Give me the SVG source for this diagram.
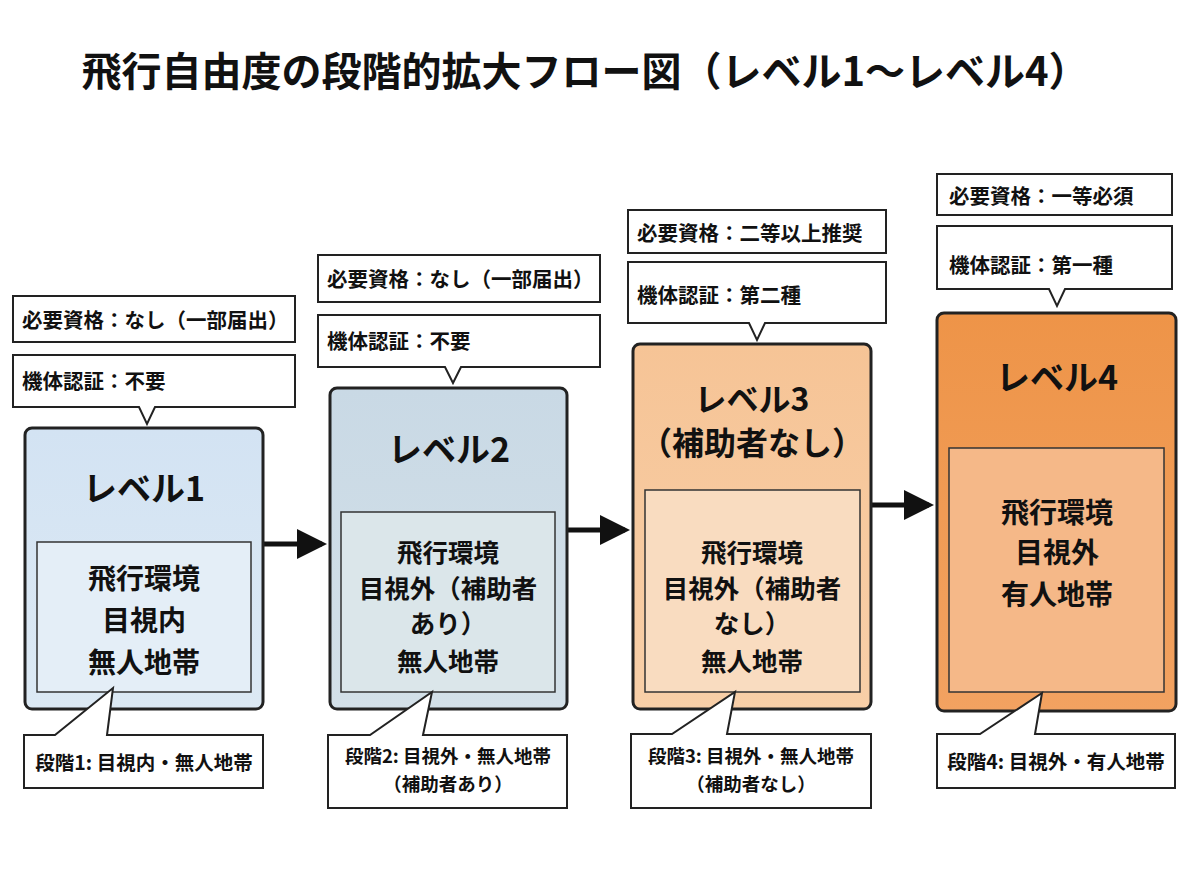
<svg xmlns="http://www.w3.org/2000/svg" width="1200" height="896" viewBox="0 0 1200 896">
<defs>
<style>
text{font-family:"Noto Sans CJK JP","Noto Sans",sans-serif;fill:#111;}
.title{font-size:40px;font-weight:700;}
.lv{font-size:34px;font-weight:700;text-anchor:middle;}
.lv3{font-size:32px;font-weight:700;text-anchor:middle;}
.in{font-size:28px;font-weight:700;text-anchor:middle;}
.in2{font-size:25.5px;font-weight:700;text-anchor:middle;}
.co{font-size:20.5px;font-weight:700;}
.bl{font-size:19.5px;font-weight:700;text-anchor:middle;}
.bl2{font-size:18.5px;font-weight:700;text-anchor:middle;}
.box{stroke:#222;stroke-width:3;}
.inner{stroke:#333;stroke-width:1.5;}
.call{fill:#fff;stroke:#222;stroke-width:2;}
.conn{stroke:#111;stroke-width:5;fill:none;}
</style>
<marker id="ah" markerWidth="6" markerHeight="6" refX="5" refY="3" orient="auto" markerUnits="strokeWidth"><path d="M0,0 L6,3 L0,6 z" fill="#111"/></marker>
<linearGradient id="g1" x1="0" y1="0" x2="0" y2="1"><stop offset="0" stop-color="#d3e3f3"/><stop offset="1" stop-color="#dce9f4"/></linearGradient>
<linearGradient id="g2" x1="0" y1="0" x2="0" y2="1"><stop offset="0" stop-color="#c9d9e5"/><stop offset="1" stop-color="#d3e0e8"/></linearGradient>
<linearGradient id="g3" x1="0" y1="0" x2="0" y2="1"><stop offset="0" stop-color="#f6c496"/><stop offset="1" stop-color="#f8cfa8"/></linearGradient>
<linearGradient id="g4" x1="0" y1="0" x2="0" y2="1"><stop offset="0" stop-color="#ee9448"/><stop offset="1" stop-color="#f2a261"/></linearGradient>
</defs>
<rect width="1200" height="896" fill="#fff"/>
<text class="title" x="585" y="86" text-anchor="middle">飛行自由度の段階的拡大フロー図（レベル1〜レベル4）</text>

<g id="connectors">
<line class="conn" x1="263" y1="544" x2="322" y2="544" marker-end="url(#ah)"/>
<line class="conn" x1="567" y1="530" x2="625" y2="530" marker-end="url(#ah)"/>
<line class="conn" x1="871" y1="505" x2="929" y2="505" marker-end="url(#ah)"/>
</g>

<g id="level1">
<rect class="box" x="25" y="428" width="238" height="281" rx="7" fill="url(#g1)"/>
<rect class="inner" x="37" y="542" width="214" height="150" fill="#e4eef7"/>
<text class="lv" x="144" y="501">レベル1</text>
<text class="in" x="144" y="589">飛行環境</text>
<text class="in" x="144" y="631">目視内</text>
<text class="in" x="144" y="673">無人地帯</text>
</g>
<g id="level1-req"><rect class="call" x="13" y="296" width="282" height="46"/><text class="co" x="22" y="328">必要資格：なし（一部届出）</text></g>
<g id="level1-cert"><path class="call" d="M13,355 H295 V407 H155 L147,424 L139,407 H13 Z"/><text class="co" x="22" y="389">機体認証：不要</text></g>
<g id="level1-stage"><path class="call" d="M24,735 H55 L113,688 L107,735 H263 V788 H24 Z"/><text class="bl" x="144" y="770">段階1: 目視内・無人地帯</text></g>

<g id="level2">
<rect class="box" x="330" y="388" width="237" height="321" rx="7" fill="url(#g2)"/>
<rect class="inner" x="341" y="512" width="214" height="180" fill="#dbe6ea"/>
<text class="lv" x="449" y="462">レベル2</text>
<text class="in2" x="448" y="562">飛行環境</text>
<text class="in2" x="448" y="598">目視外（補助者</text>
<text class="in2" x="448" y="633">あり）</text>
<text class="in2" x="448" y="671">無人地帯</text>
</g>
<g id="level2-req"><rect class="call" x="318" y="255" width="282" height="47"/><text class="co" x="327" y="287">必要資格：なし（一部届出）</text></g>
<g id="level2-cert"><path class="call" d="M318,315 H600 V367 H461 L453,383 L445,367 H318 Z"/><text class="co" x="327" y="349">機体認証：不要</text></g>
<g id="level2-stage"><path class="call" d="M328,735 H370 L432,692 L423,735 H567 V808 H328 Z"/><text class="bl2" x="448" y="763">段階2: 目視外・無人地帯</text><text class="bl2" x="448" y="791">（補助者あり）</text></g>

<g id="level3">
<rect class="box" x="633" y="344" width="238" height="365" rx="7" fill="url(#g3)"/>
<rect class="inner" x="645" y="490" width="215" height="202" fill="#f9dcc0"/>
<text class="lv3" x="752" y="411">レベル3</text>
<text class="lv3" x="752" y="455">（補助者なし）</text>
<text class="in2" x="752" y="562">飛行環境</text>
<text class="in2" x="752" y="598">目視外（補助者</text>
<text class="in2" x="752" y="633">なし）</text>
<text class="in2" x="752" y="671">無人地帯</text>
</g>
<g id="level3-req"><rect class="call" x="628" y="210" width="258" height="43"/><text class="co" x="637" y="241">必要資格：二等以上推奨</text></g>
<g id="level3-cert"><path class="call" d="M628,262 H886 V323 H765 L757,340 L749,323 H628 Z"/><text class="co" x="637" y="303">機体認証：第二種</text></g>
<g id="level3-stage"><path class="call" d="M631,734 H672 L735,692 L727,734 H871 V808 H631 Z"/><text class="bl2" x="751" y="763">段階3: 目視外・無人地帯</text><text class="bl2" x="751" y="791">（補助者なし）</text></g>

<g id="level4">
<rect class="box" x="937" y="313" width="239" height="398" rx="7" fill="url(#g4)"/>
<rect class="inner" x="949" y="448" width="215" height="244" fill="#f5b888"/>
<text class="lv" x="1057" y="390">レベル4</text>
<text class="in" x="1057" y="523">飛行環境</text>
<text class="in" x="1057" y="563">目視外</text>
<text class="in" x="1057" y="605">有人地帯</text>
</g>
<g id="level4-req"><rect class="call" x="937" y="174" width="235" height="41"/><text class="co" x="949" y="204">必要資格：一等必須</text></g>
<g id="level4-cert"><path class="call" d="M937,226 H1172 V289 H1065 L1057,306 L1049,289 H937 Z"/><text class="co" x="949" y="273">機体認証：第一種</text></g>
<g id="level4-stage"><path class="call" d="M937,734 H980 L1042,693 L1035,734 H1175 V788 H937 Z"/><text class="bl" x="1056" y="769">段階4: 目視外・有人地帯</text></g>
</svg>
